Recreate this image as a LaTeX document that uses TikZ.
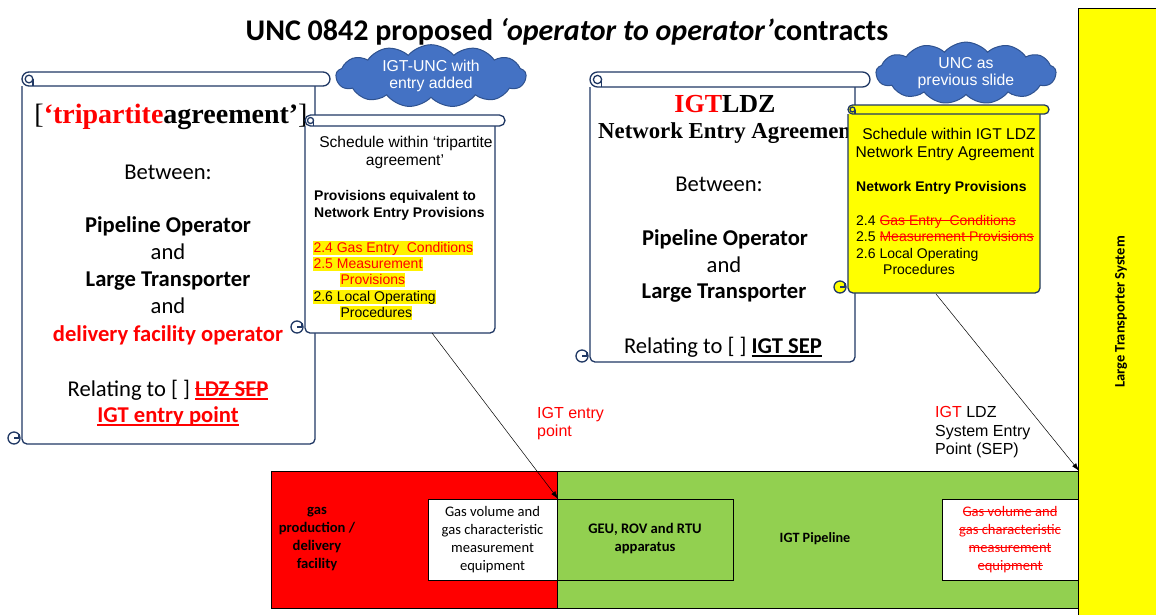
\documentclass[tikz,border=0pt]{standalone}
\usepackage{fontspec}
\setmainfont{Carlito}
\newfontfamily\arialf{Liberation Sans}
\newfontfamily\timesf{Liberation Serif}
\newcommand\gothtxt[1]{{\timesf\bfseries #1}}
\usetikzlibrary{shapes.symbols,arrows.meta}
\definecolor{scrollc}{HTML}{203864}
\definecolor{cloudblue}{HTML}{4472C4}
\definecolor{cloudedge}{HTML}{2F528F}
\definecolor{pipegreen}{HTML}{92D050}
\definecolor{ltsyellow}{HTML}{FFFF00}
\newsavebox\tbox
\newcommand\strk[1]{\sbox\tbox{#1}\rlap{\rule[0.3em]{\wd\tbox}{0.07em}}\usebox\tbox}
\newcommand\undl[1]{\sbox\tbox{#1}\rlap{\rule[-0.16em]{\wd\tbox}{0.07em}}\usebox\tbox}
\newcommand\strundl[1]{\sbox\tbox{#1}\rlap{\rule[0.3em]{\wd\tbox}{0.07em}}\rlap{\rule[-0.16em]{\wd\tbox}{0.07em}}\usebox\tbox}
\newcommand\hlt[1]{{\setlength{\fboxsep}{0.3pt}\colorbox{yellow}{\rule[-0.2em]{0pt}{1.0em}#1}}}
\newcommand\drawscroll[7]{%
  \pgfmathsetmacro\rh{(#3-#2)/2}%
  \filldraw[scrollline, fill=#7, rounded corners=5pt] (#1,#3) -- (#1,#6) -- (#5,#6) -- (#5,#3);
  \filldraw[scrollline, fill=#7, rounded corners=\rh pt] (#1,#2) rectangle (#4,#3);
  \draw[scrollline] (#1+\rh,#2+\rh) circle[radius=\rh*0.55];
  \draw[scrollline] (#1+\rh*1.55,#2+\rh) -- (#1+\rh*1.55,#3);
  \filldraw[scrollline, fill=#7] (#1-8,#6-6) circle[radius=6];
  \draw[scrollline] (#1-8,#6-6) -- (#1-3,#6-6) (#1-3,#6-6) -- (#1-3,#6-10);
}
\begin{document}
\begin{tikzpicture}[x=1pt,y=-1pt,
  scrollline/.style={draw=scrollc, line width=1.3pt},
  bigtxt/.style={font=\fontsize{22.6}{26}\selectfont, anchor=base, inner sep=0pt},
  bigbold/.style={bigtxt, font=\bfseries\fontsize{22.6}{26}\selectfont},
  schtxt/.style={font=\arialf\fontsize{15.6}{16}\selectfont, anchor=base, inner sep=0pt},
  itemtxt/.style={font=\arialf\fontsize{14}{16}\selectfont, anchor=base west, inner sep=0pt},
  boldsch/.style={font=\arialf\bfseries\fontsize{14}{16}\selectfont, anchor=base west, inner sep=0pt},
  lbltxt/.style={font=\arialf\fontsize{16}{18}\selectfont, anchor=base west, inner sep=0pt},
  rectbox/.style={draw=black, line width=1.2pt, anchor=north west, inner sep=0pt},
  boxtxt/.style={font=\fontsize{14.6}{18}\selectfont, align=center, inner sep=0pt},
  boxbold/.style={boxtxt, font=\bfseries\fontsize{14.6}{18}\selectfont},
  cloudnode/.style={cloud, cloud puffs=13, cloud puff arc=100, aspect=3.8, draw=cloudedge, line width=1pt, fill=cloudblue, text=white, font=\arialf\fontsize{15.8}{17}\selectfont, align=center, inner sep=0pt},
  arr/.style={-{Latex[length=8pt,width=5pt]}, line width=0.5pt, black}
]
\useasboundingbox (0,0) rectangle (1156,614);

% Large Transporter System
\node[rectbox, fill=ltsyellow, line width=1pt, minimum width=90pt, minimum height=610pt] (lts) at (1078,8) {};
\node[rotate=90, font=\bfseries\fontsize{14.5}{16}\selectfont] (ltstxt) at (1121,312) {Large Transporter System};

% bottom strip
\node[rectbox, fill=red, minimum width=286pt, minimum height=137pt] (prod) at (271,471) {};
\node[rectbox, fill=pipegreen, minimum width=521pt, minimum height=137pt] (pipe) at (557,471) {};
\node[boxbold] (prodtxt) at (317,539) {gas\\production /\\delivery\\facility};
\node[rectbox, fill=white, minimum width=129pt, minimum height=81pt] (wbox) at (428,499) {};
\node[boxtxt] (wboxtxt) at (492.5,539.5) {Gas volume and\\gas characteristic\\measurement\\equipment};
\node[rectbox, fill=pipegreen, minimum width=176pt, minimum height=81pt] (geu) at (557,499) {};
\node[boxbold] (geutxt) at (645,539) {GEU, ROV and RTU\\apparatus};
\node[font=\bfseries\fontsize{14.2}{16}\selectfont] (pipetxt) at (815,539) {IGT Pipeline};
\node[rectbox, fill=white, minimum width=136pt, minimum height=81pt] (rbox) at (942,499) {};
\node[boxtxt, text=red] (rboxtxt) at (1010,539.5) {\strk{Gas volume and}\\\strk{gas characteristic}\\\strk{measurement}\\\strk{equipment}};

% Left scroll: tripartite agreement
\drawscroll{22}{72}{86}{330}{315}{444}{white}
\node[anchor=base, inner sep=0pt, font=\fontsize{28}{30}\selectfont] (trihead) at (171,123) {{\timesf[}\gothtxt{\textcolor{red}{‘tripartite}agreement’}{\timesf]}};
\node[bigtxt] (lbetween) at (168,179) {Between:};
\node[bigbold] (lpo) at (168,232) {Pipeline Operator};
\node[bigtxt] (land1) at (168,259) {and};
\node[bigbold] (llt) at (168,286) {Large Transporter};
\node[bigtxt] (land2) at (168,313) {and};
\node[bigbold, text=red] (ldfo) at (168,341) {delivery facility operator};
\node[bigtxt] (lrel) at (168,396) {Relating to [ ] \textcolor{red}{\bfseries\strundl{LDZ SEP}}};
\node[bigbold, text=red] (ligt) at (168,422) {\undl{IGT entry point}};

% Left schedule scroll
\drawscroll{305}{115}{126}{505}{495}{333}{white}
\node[schtxt] (ls1) at (406,147) {Schedule within ‘tripartite};
\node[schtxt] (ls2) at (405,165) {agreement’};
\node[boldsch] (ls3) at (314,200) {Provisions equivalent to};
\node[boldsch] (ls4) at (314,217) {Network Entry Provisions};
\node[itemtxt] (ls5) at (313,252) {\hlt{\textcolor{red}{2.4 Gas Entry\ \ Conditions}}};
\node[itemtxt] (ls6) at (313,268) {\hlt{\textcolor{red}{2.5 Measurement}}};
\node[itemtxt] (ls7) at (340,284) {\hlt{\textcolor{red}{Provisions}}};
\node[itemtxt] (ls8) at (313,301) {\hlt{2.6 Local Operating}};
\node[itemtxt] (ls9) at (340,317) {\hlt{Procedures}};
\coordinate (s1) at (432,333);

% Middle scroll: IGT LDZ NEA
\drawscroll{590}{72}{87}{870}{855}{362}{white}
\node[anchor=base, inner sep=0pt, font=\fontsize{26}{28}\selectfont] (mhead1) at (725,112) {\gothtxt{\textcolor{red}{IGT}LDZ}};
\node[anchor=base west, inner sep=0pt, font=\fontsize{22.8}{28}\selectfont] (mhead2) at (598,138) {\gothtxt{Network Entry Agreement}};
\node[bigtxt] (mbetween) at (719,191) {Between:};
\node[bigbold] (mpo) at (725,245) {Pipeline Operator};
\node[bigtxt] (mand) at (724,272) {and};
\node[bigbold] (mlt) at (724,298) {Large Transporter};
\node[bigtxt] (mrel) at (723,353) {Relating to [ ] {\bfseries\undl{IGT SEP}}};

% Yellow schedule scroll
\drawscroll{848}{105}{114}{1049}{1040}{293}{ltsyellow}
\node[schtxt] (ys1) at (949,139) {Schedule within IGT LDZ};
\node[schtxt] (ys2) at (945,157) {Network Entry Agreement};
\node[boldsch] (ys3) at (856,191) {Network Entry Provisions};
\node[itemtxt] (ys4) at (856,225) {2.4 \textcolor{red}{\strk{Gas Entry\ \ Conditions}}};
\node[itemtxt] (ys5) at (856,241) {2.5 \textcolor{red}{\strk{Measurement Provisions}}};
\node[itemtxt] (ys6) at (856,258) {2.6 Local Operating};
\node[itemtxt] (ys7) at (883,274) {Procedures};
\coordinate (s2) at (936,294);

% clouds
\node[cloudnode, minimum width=190pt, minimum height=50pt] (c1) at (431,76) {IGT-UNC with\\entry added};
\node[cloudnode, minimum width=180pt, minimum height=46pt] (c2) at (966,73) {UNC as\\previous slide};

% arrows
\draw[arr] (s1) -- (wbox.north east);
\draw[arr] (s2) -- (pipe.north east);

% labels
\node[lbltxt, text=red] (lab1a) at (537,418) {IGT entry};
\node[lbltxt, text=red] (lab1b) at (537,436) {point};
\node[lbltxt] (lab2a) at (935,417) {\textcolor{red}{IGT} LDZ};
\node[lbltxt] (lab2b) at (935,436) {System Entry};
\node[lbltxt] (lab2c) at (935,454) {Point (SEP)};

% title
\node[anchor=base, inner sep=0pt, font=\bfseries\fontsize{30}{32}\selectfont] (title) at (567,40) {UNC 0842 proposed \textit{‘operator to operator’}contracts};
\end{tikzpicture}
\end{document}
